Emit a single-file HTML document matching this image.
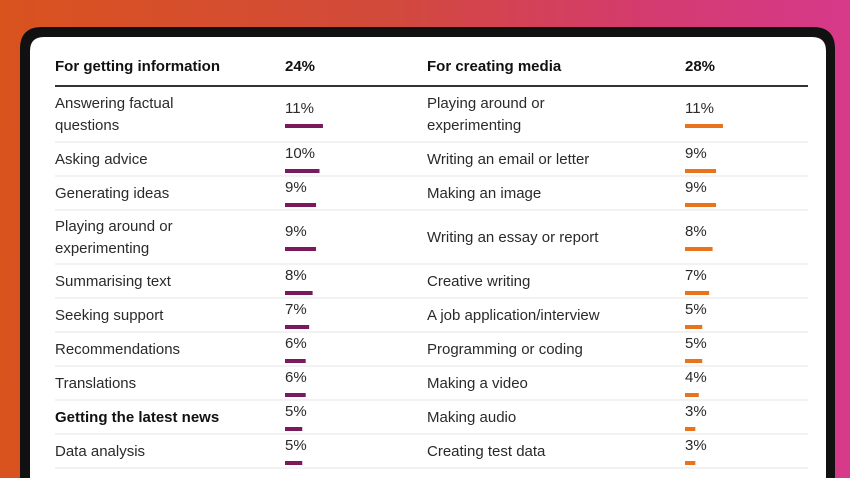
<!DOCTYPE html>
<html><head><meta charset="utf-8"><style>
html,body{margin:0;padding:0;width:850px;height:478px;overflow:hidden}
body{background:linear-gradient(90deg,#d9531f 0%,#d24a3a 45%,#d43b6d 75%,#d63a8a 100%)}
svg{position:absolute;left:0;top:0}
text{font-family:"Liberation Sans",sans-serif;fill:#2a2a2a;font-size:15px}
</style></head><body>
<svg id="chart" width="850" height="478">
<path d="M20 478 V49 Q20 27 42 27 H813 Q835 27 835 49 V478 Z" fill="#111"/>
<path d="M30 478 V51 Q30 37 44 37 H812 Q826 37 826 51 V478 Z" fill="#fff"/>
<text x="55" y="71" font-weight="bold" style="fill:#111">For getting information</text>
<text x="285" y="71" font-weight="bold" style="fill:#111">24%</text>
<text x="427" y="71" font-weight="bold" style="fill:#111">For creating media</text>
<text x="685" y="71" font-weight="bold" style="fill:#111">28%</text>
<line x1="55" y1="86" x2="808" y2="86" stroke="#333" stroke-width="2"/>
<g id="rows"></g>
</svg>
<script>
const leftLabels=[["Answering factual","questions"],["Asking advice"],["Generating ideas"],["Playing around or","experimenting"],["Summarising text"],["Seeking support"],["Recommendations"],["Translations"],["Getting the latest news"],["Data analysis"]];
const leftValues=[11,10,9,9,8,7,6,6,5,5];
const rightLabels=[["Playing around or","experimenting"],["Writing an email or letter"],["Making an image"],["Writing an essay or report"],["Creative writing"],["A job application/interview"],["Programming or coding"],["Making a video"],["Making audio"],["Creating test data"]];
const rightValues=[11,9,9,8,7,5,5,4,3,3];
const rowBounds=[86,142,176,210,264,298,332,366,400,434,468];
const pxPerPct=3.45;
const NS="http://www.w3.org/2000/svg";
const g=document.getElementById('rows');
function mk(tag,attrs){const e=document.createElementNS(NS,tag);for(const k in attrs)e.setAttribute(k,attrs[k]);g.appendChild(e);return e;}
for(let i=0;i<leftValues.length;i++){
  const y0=rowBounds[i],y1=rowBounds[i+1],mid=(y0+y1)/2;
  const sep=mk('line',{x1:55,y1:y1,x2:808,y2:y1,stroke:'#e6e6e6','stroke-width':1});
  
  
  [[leftLabels,leftValues,55,285,'#7a1a5c','left'],[rightLabels,rightValues,427,685,'#e8731a','right']].forEach(([labs,vals,lx,px,col,side])=>{
    const lines=labs[i];
    lines.forEach((ln,j)=>{
      const t=mk('text',{x:lx,y:mid+5+(j-(lines.length-1)/2)*22});
      t.textContent=ln;
      if(side==='left'&&i===8){t.setAttribute('font-weight','bold');t.style.fill='#111';}
      
      
    });
    const pt=mk('text',{x:px,y:mid-1});
    pt.textContent=vals[i]+'%';
    
    
    const b=mk('rect',{x:px,y:mid+10,width:vals[i]*pxPerPct,height:4,fill:col});
    
    
  });
}
</script>
</body></html>
